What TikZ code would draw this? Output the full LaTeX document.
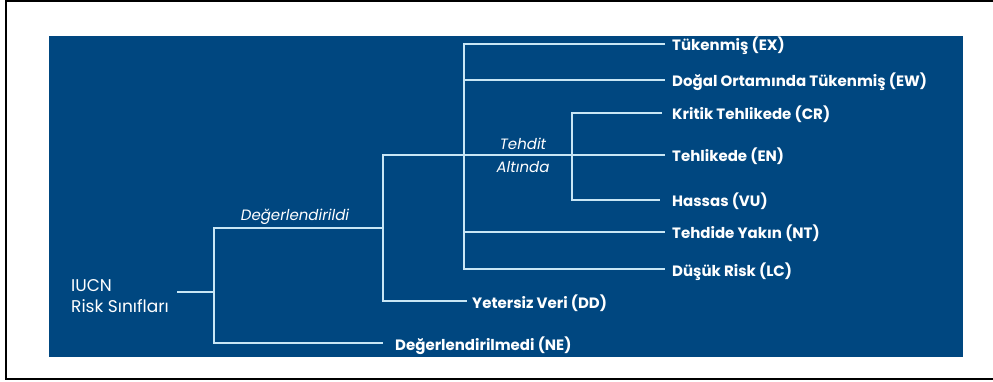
\documentclass[tikz,border=0pt]{standalone}
\usepackage{fontspec}
\setmainfont{Poppins}
\usetikzlibrary{positioning}
\definecolor{iucnblue}{RGB}{0,71,128}
\definecolor{branchcol}{RGB}{200,230,245}
\tikzset{
branch/.style={draw=branchcol, line width=1.7pt}, % lines of the tree
leaf/.style={anchor=west, inner xsep=7pt, inner ysep=0pt, text height=14pt, text depth=0pt, text=white, font=\bfseries\fontsize{15}{17}\selectfont}, % the classes
tag/.style={text=white, font=\itshape\fontsize{15}{23}\selectfont, inner sep=0pt}, % italic branch names
}

\begin{document}
\begin{tikzpicture}[x=1pt, y=-1pt]
        \useasboundingbox (0,0) rectangle (993,382);
        \draw[line width=2pt] (993,1) -- (6,1) -- (6,379) -- (993,379);
        \fill[iucnblue] (49,36) rectangle (963,357);

        \node[anchor=west, align=left, text=white, font=\fontsize{17}{21}\selectfont, inner sep=0pt] (iucn) at (71,296) {IUCN\\Risk Sınıfları};

        % split points
        \coordinate (s1) at (214,292);
        \coordinate (s2) at (383,228);
        \coordinate (s3) at (464,155);
        \coordinate (s4) at (572,155);

        \node[leaf] (ex) at (665,44) {Tükenmiş (EX)};
        \node[leaf] (ew) at (665,80) {Doğal Ortamında Tükenmiş (EW)};
        \node[leaf, inner xsep=10pt] (cr) at (662,113) {Kritik Tehlikede (CR)};
        \node[leaf] (en) at (665,155) {Tehlikede (EN)};
        \node[leaf, inner xsep=12pt] (vu) at (660,200) {Hassas (VU)};
        \node[leaf] (nt) at (665,232) {Tehdide Yakın (NT)};
        \node[leaf] (lc) at (665,269) {Düşük Risk (LC)};
        \node[leaf, inner xsep=5pt] (dd) at (467,301) {Yetersiz Veri (DD)};
        \node[leaf, inner xsep=12pt] (ne) at (383,343) {Değerlendirilmedi (NE)};

        \node[tag] (ev) at (295,217) {Değerlendirildi};
        \node[tag, align=center] (th) at (523,155) {Tehdit\\Altında};

        \draw[branch] ([xshift=8pt]iucn.east |- s1) -- (s1);
        \draw[branch] (s2) -| (s1 |- ne.west) -- (ne.west);
        \draw[branch] (en.west) -| (s2 |- dd.west) -- (dd.west);
        \draw[branch] (ex.west) -| (s3 |- lc.west) -- (lc.west);
        \draw[branch] (cr.west) -| (s4 |- vu.west) -- (vu.west);
        \foreach \n in {ew,nt}
          \draw[branch] (s3 |- \n.west) -- (\n.west);
\end{tikzpicture}
\end{document}
